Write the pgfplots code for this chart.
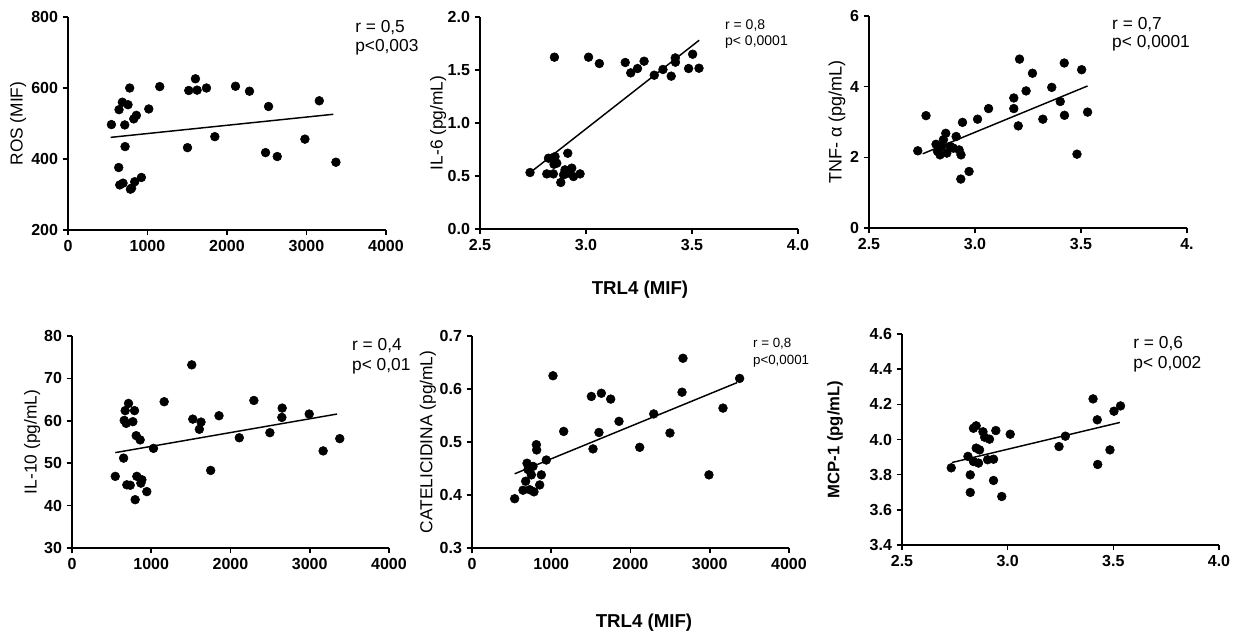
\documentclass[border=0pt]{standalone}
\usepackage{fontspec}
\setmainfont{Liberation Sans}
\usepackage{pgfplots}
\pgfplotsset{compat=1.18}
\pgfplotsset{
  myax/.style={
    scale only axis,
    anchor=south west,
    axis lines=left,
    axis line style={-, line width=1.5pt},
    tick align=outside,
    major tick length=4pt,
    every tick/.style={line width=1.2pt, black},
    tick label style={font=\bfseries\fontsize{12}{14}\selectfont},
    ylabel style={font=\fontsize{13}{15}\selectfont, anchor=center},
    clip=false,
  },
  dots/.style={only marks, mark=*, mark size=3.3pt, mark options={fill=black, draw=black}},
  fit/.style={no marks, black, line width=1.1pt},
}
\begin{document}
\begin{tikzpicture}
\useasboundingbox (0,0) rectangle (930.75pt,-480pt);
% ---------- Panel 1: ROS ----------
\begin{axis}[myax, at={(51pt,-172.5pt)}, width=238.5pt, height=159.75pt,
  xmin=0, xmax=4000, ymin=200, ymax=800,
  xtick={0,1000,2000,3000,4000}, xticklabels={0,1000,2000,3000,4000},
  ytick={200,400,600,800}, yticklabels={200,400,600,800},
  ylabel={ROS (MIF)}, ylabel style={at={(axis description cs:-0.157,0.5)}}]
\addplot[dots] coordinates {(546,497)(642,539)(684,560)(755,553)(776,600)(714,496)(718,435)(638,376)(651,327)(692,332)(785,315)(800,318)(839,336)(923,348)(827,513)(860,523)(1016,541)(1154,604)(1503,432)(1519,593)(1603,626)(1624,594)(1742,600)(1847,463)(2107,605)(2283,591)(2485,418)(2523,548)(2632,407)(2980,456)(3161,564)(3370,391)};
\addplot[fit] coordinates {(537,461)(3337,526)};
\node[anchor=north west, inner sep=0pt, align=left, font=\fontsize{13}{14.5}\selectfont] at (rel axis cs:0.9025,0.986) {r = 0,5\\p<0,003};
\end{axis}
% ---------- Panel 2: IL-6 ----------
\begin{axis}[myax, at={(360pt,-171.75pt)}, width=238.5pt, height=159pt,
  xmin=2.5, xmax=4.0, ymin=0, ymax=2.0,
  xtick={2.5,3.0,3.5,4.0}, xticklabels={2.5,3.0,3.5,4.0},
  ytick={0,0.5,1.0,1.5,2.0}, yticklabels={0.0,0.5,1.0,1.5,2.0},
  ylabel={IL-6 (pg/mL)}, ylabel style={at={(axis description cs:-0.132,0.5)}}]
\addplot[dots] coordinates {(2.736,0.533)(2.851,1.621)(3.012,1.621)(3.063,1.561)(3.185,1.571)(3.211,1.473)(3.243,1.514)(3.274,1.583)(3.322,1.451)(3.363,1.505)(3.402,1.442)(3.421,1.614)(3.422,1.574)(3.503,1.649)(3.484,1.514)(3.533,1.517)(2.823,0.668)(2.815,0.520)(2.846,0.520)(2.854,0.683)(2.862,0.621)(2.849,0.611)(2.914,0.715)(2.881,0.439)(2.894,0.511)(2.914,0.527)(2.933,0.574)(2.941,0.495)(2.972,0.520)(2.901,0.558)(2.838,0.668)};
\addplot[fit] coordinates {(2.733,0.527)(3.534,1.781)};
\node[anchor=north west, inner sep=0pt, align=left, font=\fontsize{10.5}{12.5}\selectfont] at (rel axis cs:0.770,0.99) {r = 0,8\\p< 0,0001};
\end{axis}
% ---------- Panel 3: TNF-alpha ----------
\begin{axis}[myax, at={(651.75pt,-171pt)}, width=238.5pt, height=159pt,
  xmin=2.5, xmax=4.0, ymin=0, ymax=6,
  xtick={2.5,3.0,3.5,4.0}, xticklabels={2.5,3.0,3.5,4.},
  ytick={0,2,4,6}, yticklabels={0,2,4,6},
  ylabel={TNF- α (pg/mL)}, ylabel style={at={(axis description cs:-0.101,0.5)}, font=\fontsize{13.5}{15}\selectfont}]
\addplot[dots] coordinates {(2.730,2.185)(2.769,3.18)(2.816,2.37)(2.823,2.17)(2.835,2.07)(2.843,2.31)(2.851,2.50)(2.862,2.68)(2.867,2.12)(2.883,2.31)(2.898,2.26)(2.911,2.59)(2.925,2.21)(2.934,2.07)(2.933,1.385)(2.941,2.99)(2.972,1.60)(3.012,3.08)(3.064,3.38)(3.183,3.38)(3.183,3.68)(3.204,2.89)(3.210,4.78)(3.241,3.88)(3.271,4.38)(3.320,3.08)(3.362,3.98)(3.402,3.58)(3.421,4.67)(3.422,3.19)(3.481,2.09)(3.503,4.48)(3.531,3.28)};
\addplot[fit] coordinates {(2.753,2.10)(3.531,4.02)};
\node[anchor=north west, inner sep=0pt, align=left, font=\fontsize{13}{14}\selectfont] at (rel axis cs:0.764,0.997) {r = 0,7\\p< 0,0001};
\end{axis}
% ---------- Panel 4: IL-10 ----------
\begin{axis}[myax, at={(54pt,-411pt)}, width=237.75pt, height=159pt,
  xmin=0, xmax=4000, ymin=30, ymax=80,
  xtick={0,1000,2000,3000,4000}, xticklabels={0,1000,2000,3000,4000},
  ytick={30,40,50,60,70,80}, yticklabels={30,40,50,60,70,80},
  ylabel={IL-10 (pg/mL)}, ylabel style={at={(axis description cs:-0.126,0.5)}}]
\addplot[dots] coordinates {(546,46.9)(651,51.2)(659,60.1)(671,62.4)(684,59.4)(713,64.1)(692,44.9)(735,44.8)(768,59.8)(789,62.4)(810,56.5)(860,55.5)(797,41.4)(818,46.9)(869,45.3)(882,46.1)(944,43.3)(1028,53.5)(1163,64.5)(1511,73.2)(1524,60.4)(1607,58.0)(1628,59.7)(1750,48.3)(1855,61.2)(2111,56.0)(2295,64.8)(2497,57.2)(2652,63.0)(2648,60.8)(2993,61.6)(3169,52.9)(3379,55.8)};
\addplot[fit] coordinates {(546,52.5)(3345,61.6)};
\node[anchor=north west, inner sep=0pt, align=left, font=\fontsize{13}{15}\selectfont] at (rel axis cs:0.883,0.99) {r = 0,4\\p< 0,01};
\end{axis}
% ---------- Panel 5: CATELICIDINA ----------
\begin{axis}[myax, at={(354pt,-411pt)}, width=237.75pt, height=159pt,
  xmin=0, xmax=4000, ymin=0.3, ymax=0.7,
  xtick={0,1000,2000,3000,4000}, xticklabels={0,1000,2000,3000,4000},
  ytick={0.3,0.4,0.5,0.6,0.7}, yticklabels={0.3,0.4,0.5,0.6,0.7},
  ylabel={CATELICIDINA (pg/mL)}, ylabel style={at={(axis description cs:-0.139,0.5)}}]
\addplot[dots] coordinates {(538,0.393)(644,0.409)(677,0.426)(694,0.460)(707,0.448)(728,0.410)(749,0.438)(770,0.454)(782,0.406)(812,0.495)(816,0.485)(854,0.419)(875,0.438)(938,0.466)(1022,0.625)(1157,0.520)(1506,0.586)(1527,0.487)(1602,0.518)(1632,0.592)(1750,0.581)(1855,0.539)(2116,0.490)(2293,0.553)(2498,0.517)(2650,0.594)(2662,0.658)(2990,0.438)(3167,0.564)(3377,0.620)};
\addplot[fit] coordinates {(538,0.440)(3344,0.612)};
\node[anchor=north west, inner sep=0pt, align=left, font=\fontsize{10}{12.5}\selectfont] at (rel axis cs:0.886,0.99) {r = 0,8\\p<0,0001};
\end{axis}
% ---------- Panel 6: MCP-1 ----------
\begin{axis}[myax, at={(676.5pt,-408.75pt)}, width=237.75pt, height=158.25pt,
  xmin=2.5, xmax=4.0, ymin=3.4, ymax=4.6,
  xtick={2.5,3.0,3.5,4.0}, xticklabels={2.5,3.0,3.5,4.0},
  ytick={3.4,3.6,3.8,4.0,4.2,4.4,4.6}, yticklabels={3.4,3.6,3.8,4.0,4.2,4.4,4.6},
  ylabel={MCP-1 (pg/mL)}, ylabel style={at={(axis description cs:-0.211,0.5)}, font=\bfseries\fontsize{12.5}{15}\selectfont}]
\addplot[dots] coordinates {(2.733,3.839)(2.812,3.904)(2.823,3.799)(2.823,3.699)(2.838,4.064)(2.851,4.078)(2.838,3.875)(2.851,3.951)(2.862,3.866)(2.867,3.941)(2.883,4.044)(2.891,4.013)(2.914,4.002)(2.905,3.885)(2.933,3.888)(2.933,3.767)(2.944,4.051)(2.972,3.676)(3.012,4.030)(3.243,3.960)(3.273,4.019)(3.404,4.231)(3.424,4.112)(3.426,3.858)(3.484,3.941)(3.503,4.161)(3.534,4.191)};
\addplot[fit] coordinates {(2.736,3.869)(3.531,4.097)};
\node[anchor=north west, inner sep=0pt, align=left, font=\fontsize{13}{15}\selectfont] at (rel axis cs:0.729,0.99) {r = 0,6\\p< 0,002};
\end{axis}
% ---------- shared x labels ----------
\node[font=\bfseries\fontsize{14}{16}\selectfont] at (480pt,-217.5pt) {TRL4 (MIF)};
\node[font=\bfseries\fontsize{14}{16}\selectfont] at (483pt,-467.25pt) {TRL4 (MIF)};
\end{tikzpicture}
\end{document}
